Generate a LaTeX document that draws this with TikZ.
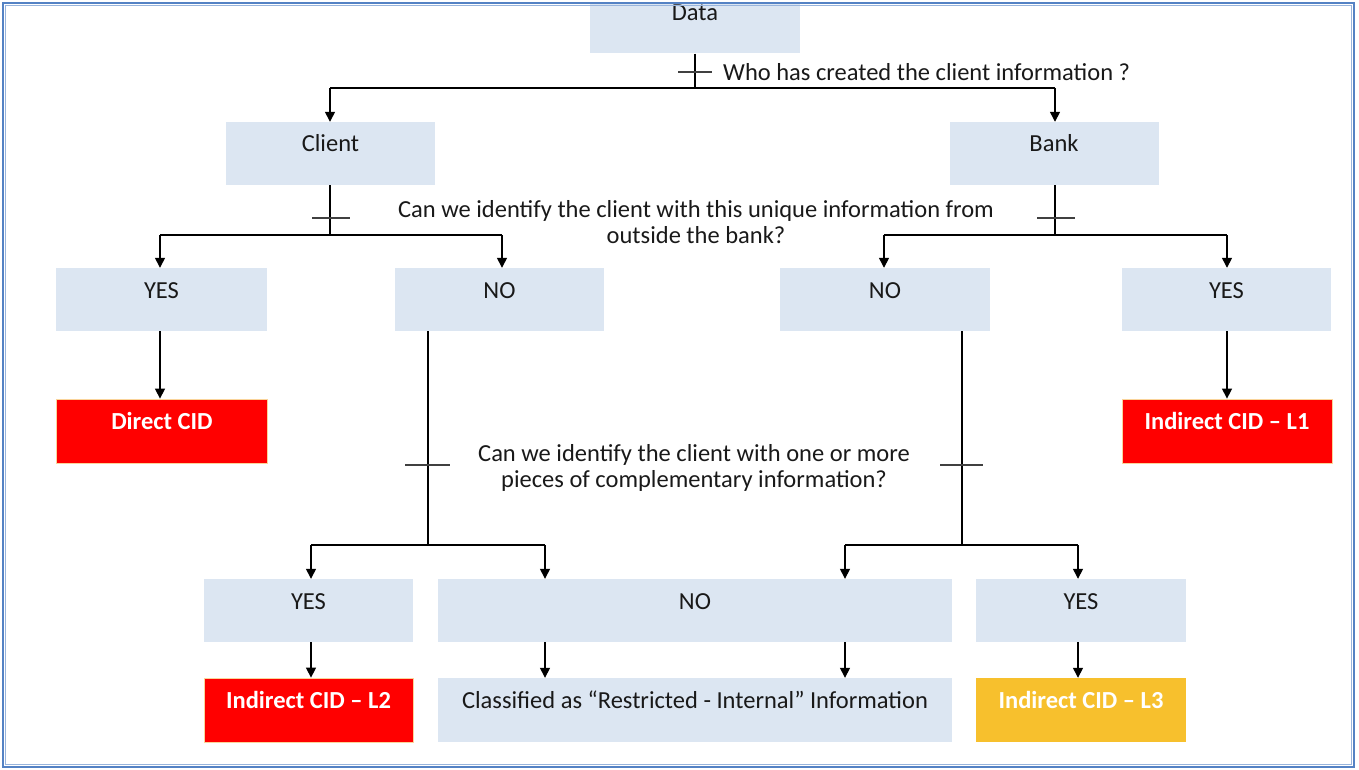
\documentclass[tikz,border=0pt]{standalone}
\usepackage{fontspec}
\setmainfont{Carlito}
\usetikzlibrary{arrows.meta}
\definecolor{boxblue}{HTML}{DCE6F2}
\definecolor{framblue}{RGB}{84,130,196}
\definecolor{cidred}{HTML}{FF0000}
\definecolor{cidyellow}{RGB}{247,192,45}
\definecolor{cidedge}{HTML}{FAD49A}
\tikzset{
  base/.style={rectangle, inner sep=0pt, minimum height=63pt, text height=17pt, text depth=20pt, font=\fontsize{24.5}{26}\selectfont},
  bluebox/.style={base, fill=boxblue, text=black!90},
  redbox/.style={base, fill=cidred, draw=cidedge, line width=0.8pt, text=white, font=\fontsize{24.5}{26}\selectfont\bfseries},
  yellowbox/.style={base, fill=cidyellow, text=white, font=\fontsize{24.5}{26}\selectfont\bfseries},
  conn/.style={line width=1.4pt, black},
  arr/.style={conn, -{Triangle[length=10pt,width=10pt]}},
  tick/.style={line width=1.1pt, black!75},
  qtext/.style={font=\fontsize{24.5}{26.5}\selectfont, align=center, text=black!90, inner sep=0pt}
}
\begin{document}
\begin{tikzpicture}[x=1pt,y=-1pt]
\useasboundingbox (0,0) rectangle (1359,770);
\fill[white] (0,0) rectangle (1359,770);
% boxes
\begin{scope}
\clip (0,3) rectangle (1359,770);
\node[bluebox, minimum width=210pt] (data) at (695,22) {Data};
\end{scope}
\node[bluebox, minimum width=209pt] (client) at (330.5,153.5) {Client};
\node[bluebox, minimum width=209pt] (bank) at (1054,153.5) {Bank};
\node[bluebox, minimum width=211pt] (yes1) at (161.5,299.5) {YES};
\node[bluebox, minimum width=209pt] (no1) at (499.5,299.5) {NO};
\node[bluebox, minimum width=210pt] (no2) at (885,299.5) {NO};
\node[bluebox, minimum width=209pt] (yes2) at (1226.5,299.5) {YES};
\node[redbox, minimum width=211pt, minimum height=64pt] (dcid) at (162,431) {Direct CID};
\node[redbox, minimum width=210pt, minimum height=64pt] (icid1) at (1227,431) {Indirect CID -- L1};
\node[bluebox, minimum width=209pt] (yes3) at (308.5,610.5) {YES};
\node[bluebox, minimum width=514pt] (no3) at (695,610.5) {NO};
\node[bluebox, minimum width=210pt] (yes4) at (1081,610.5) {YES};
\node[redbox, minimum width=209pt, minimum height=64pt] (icid2) at (308.5,710) {Indirect CID -- L2};
\node[bluebox, minimum width=514pt, minimum height=64pt] (cls) at (695,710) {Classified as “Restricted - Internal” Information};
\node[yellowbox, minimum width=210pt, minimum height=64pt] (icid3) at (1081,710) {Indirect CID -- L3};
% junction coordinates
\coordinate (j0) at (695,88);
\coordinate (j0l) at (330,88);
\coordinate (j0r) at (1055,88);
\coordinate (j1) at (330,235);
\coordinate (j1l) at (160,235);
\coordinate (j1r) at (502,235);
\coordinate (j2) at (1055,235);
\coordinate (j2l) at (884,235);
\coordinate (j2r) at (1227,235);
\coordinate (j3) at (428,545);
\coordinate (j3l) at (311,545);
\coordinate (j3r) at (545,545);
\coordinate (j4) at (962,545);
\coordinate (j4l) at (845,545);
\coordinate (j4r) at (1078,545);
% level 1
\draw[conn] (data.south) -- (j0);
\draw[conn] (j0l) -- (j0r);
\draw[arr] (j0l) -- (client.north -| j0l);
\draw[arr] (j0r) -- (bank.north -| j0r);
\draw[tick] (678,72) -- (712,72);
\node[qtext, anchor=west] (q1) at (723,72) {Who has created the client information ?};
% level 2
\draw[conn] (client.south -| j1) -- (j1);
\draw[conn] (j1l) -- (j1r);
\draw[arr] (j1l) -- (yes1.north -| j1l);
\draw[arr] (j1r) -- (no1.north -| j1r);
\draw[tick] (312,218) -- (350,218);
\draw[conn] (bank.south -| j2) -- (j2);
\draw[conn] (j2l) -- (j2r);
\draw[arr] (j2l) -- (no2.north -| j2l);
\draw[arr] (j2r) -- (yes2.north -| j2r);
\draw[tick] (1037,218) -- (1075,218);
\node[qtext] (q2) at (696,222) {Can we identify the client with this unique information from\\outside the bank?};
% level 3
\draw[arr] (yes1.south -| 160,0) -- (dcid.north -| 160,0);
\draw[arr] (yes2.south -| 1227,0) -- (icid1.north -| 1227,0);
\draw[conn] (no1.south -| j3) -- (j3);
\draw[conn] (j3l) -- (j3r);
\draw[arr] (j3l) -- (yes3.north -| j3l);
\draw[arr] (j3r) -- (no3.north -| j3r);
\draw[tick] (405,465) -- (450,465);
\draw[conn] (no2.south -| j4) -- (j4);
\draw[conn] (j4l) -- (j4r);
\draw[arr] (j4l) -- (no3.north -| j4l);
\draw[arr] (j4r) -- (yes4.north -| j4r);
\draw[tick] (940,465) -- (983,465);
\node[qtext] (q3) at (694,468) {Can we identify the client with one or more\\pieces of complementary information?};
% level 4
\draw[arr] (yes3.south -| 311,0) -- (icid2.north -| 311,0);
\draw[arr] (no3.south -| 545,0) -- (cls.north -| 545,0);
\draw[arr] (no3.south -| 845,0) -- (cls.north -| 845,0);
\draw[arr] (yes4.south -| 1078,0) -- (icid3.north -| 1078,0);
% frame
\draw[framblue!60, line width=1.5pt] (5.5,5.5) rectangle (1351.5,764.5);
\draw[framblue, line width=2.2pt] (3,3) rectangle (1354,767);
\end{tikzpicture}
\end{document}
